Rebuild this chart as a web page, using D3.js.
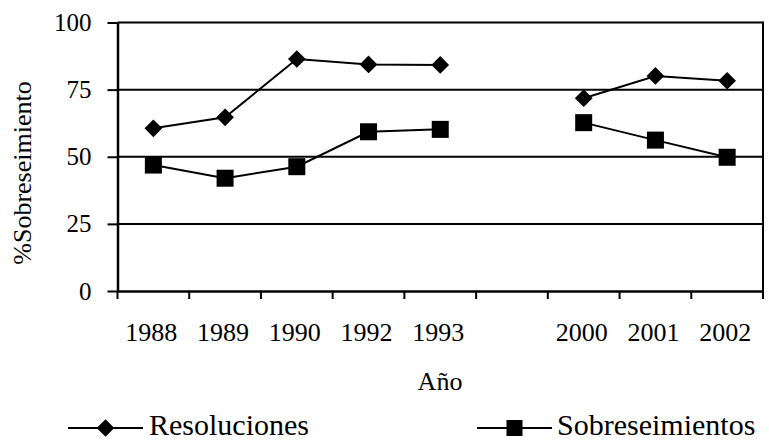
<!DOCTYPE html>
<html>
<head>
<meta charset="utf-8">
<script src="https://cdn.jsdelivr.net/npm/d3@7"></script>
<style>
  body { margin: 0; background: #fff; }
  svg text { fill: #000; }
</style>
</head>
<body>
<div id="chart"></div>
<script>
// datos
var years = ["1988", "1989", "1990", "1992", "1993", "", "2000", "2001", "2002"];
var resoluciones = [60.6, 64.7, 86.4, 84.4, 84.2, null, 71.8, 80.1, 78.3];
var sobreseimientos = [46.9, 42.0, 46.3, 59.3, 60.2, null, 62.7, 56.2, 49.8];
var yTicks = [0, 25, 50, 75, 100];

var width = 769, height = 443;
var pLeft = 117.5, pRight = 763, pTop = 22.5, pBottom = 291;
var serif = "Liberation Serif, DejaVu Serif";

var svg = d3.select("#chart").append("svg")
  .attr("width", width)
  .attr("height", height)
  .attr("font-family", serif);

// escalas (el hueco tiene clave propia)
var keys = years.map(function(d, i) { return d === "" ? "gap" + i : d; });
var x = d3.scaleBand().domain(keys).range([pLeft, pRight]).paddingInner(0).paddingOuter(0);
var y = d3.scaleLinear().domain([0, 100]).range([pBottom, pTop]);

// lineas de rejilla
svg.append("g").selectAll("line")
  .data(yTicks.filter(function(d) { return d > 0; }))
  .enter().append("line")
  .attr("x1", pLeft).attr("x2", pRight)
  .attr("y1", function(d) { return y(d); })
  .attr("y2", function(d) { return y(d); })
  .attr("stroke", "#000").attr("stroke-width", 2);

// borde derecho
svg.append("line")
  .attr("x1", pRight).attr("x2", pRight).attr("y1", pTop - 1).attr("y2", pBottom)
  .attr("stroke", "#000").attr("stroke-width", 2);

// eje y
var yAxis = svg.append("g")
  .attr("transform", "translate(" + pLeft + ",0)")
  .call(d3.axisLeft(y).tickValues(yTicks).tickSize(10).tickSizeOuter(0).tickPadding(16));
yAxis.attr("font-family", serif).attr("font-size", 25);
yAxis.select(".domain").attr("stroke-width", 2.5);
yAxis.selectAll(".tick line").attr("stroke-width", 2);

// eje x: marcas en los limites de cada categoria
var xAxis = svg.append("g")
  .attr("transform", "translate(0," + pBottom + ")")
  .call(d3.axisBottom(x).tickSize(0).tickSizeOuter(0).tickPadding(32)
    .tickFormat(function(d, i) { return years[i]; }));
xAxis.attr("font-family", serif).attr("font-size", 26);
xAxis.select(".domain").attr("stroke-width", 2.5);
xAxis.selectAll(".tick text").attr("dx", -2);

var bounds = keys.map(function(k) { return x(k); }).concat([pRight]);
xAxis.selectAll(".bound")
  .data(bounds)
  .enter().append("line")
  .attr("class", "bound")
  .attr("x1", function(d) { return d; })
  .attr("x2", function(d) { return d; })
  .attr("y1", 0).attr("y2", 8)
  .attr("stroke", "#000").attr("stroke-width", 2);

// titulos
svg.append("text")
  .attr("transform", "translate(31,173) rotate(-90)")
  .attr("text-anchor", "middle")
  .attr("font-size", 26)
  .text("%Sobreseimiento");

svg.append("text")
  .attr("x", 440).attr("y", 390)
  .attr("text-anchor", "middle")
  .attr("font-size", 26)
  .text("Año");

// series
var cx = function(d, i) { return x(keys[i]) + x.bandwidth() / 2; };
var line = d3.line()
  .defined(function(d) { return d !== null; })
  .x(cx)
  .y(function(d) { return y(d); });

var diamond = d3.symbol().type(d3.symbolDiamond2).size(200);

function drawSeries(values, marker) {
  var g = svg.append("g");
  g.append("path")
    .datum(values)
    .attr("d", line)
    .attr("fill", "none")
    .attr("stroke", "#000")
    .attr("stroke-width", 2);
  var pts = g.selectAll(".pt")
    .data(values.map(function(v, i) { return { v: v, i: i }; })
      .filter(function(d) { return d.v !== null; }))
    .enter();
  if (marker === "diamond") {
    pts.append("path")
      .attr("d", diamond)
      .attr("transform", function(d) {
        return "translate(" + cx(d.v, d.i) + "," + y(d.v) + ")";
      })
      .attr("fill", "#000");
  } else {
    pts.append("rect")
      .attr("x", function(d) { return cx(d.v, d.i) - 8.5; })
      .attr("y", function(d) { return y(d.v) - 8.5; })
      .attr("width", 17).attr("height", 17)
      .attr("fill", "#000");
  }
}

drawSeries(resoluciones, "diamond");
drawSeries(sobreseimientos, "square");

// leyenda
var legend = [
  { name: "Resoluciones", marker: "diamond", x1: 68, x2: 143, tx: 149 },
  { name: "Sobreseimientos", marker: "square", x1: 477, x2: 552, tx: 557 }
];
var ly = 428;
legend.forEach(function(l) {
  var g = svg.append("g");
  g.append("line")
    .attr("x1", l.x1).attr("x2", l.x2).attr("y1", ly).attr("y2", ly)
    .attr("stroke", "#000").attr("stroke-width", 2);
  var mx = (l.x1 + l.x2) / 2;
  if (l.marker === "diamond") {
    g.append("path").attr("d", diamond)
      .attr("transform", "translate(" + mx + "," + ly + ")")
      .attr("fill", "#000");
  } else {
    g.append("rect").attr("x", mx - 8).attr("y", ly - 8)
      .attr("width", 16).attr("height", 16).attr("fill", "#000");
  }
  g.append("text")
    .attr("x", l.tx).attr("y", ly + 7)
    .attr("font-size", 30)
    .text(l.name);
});
</script>
</body>
</html>
